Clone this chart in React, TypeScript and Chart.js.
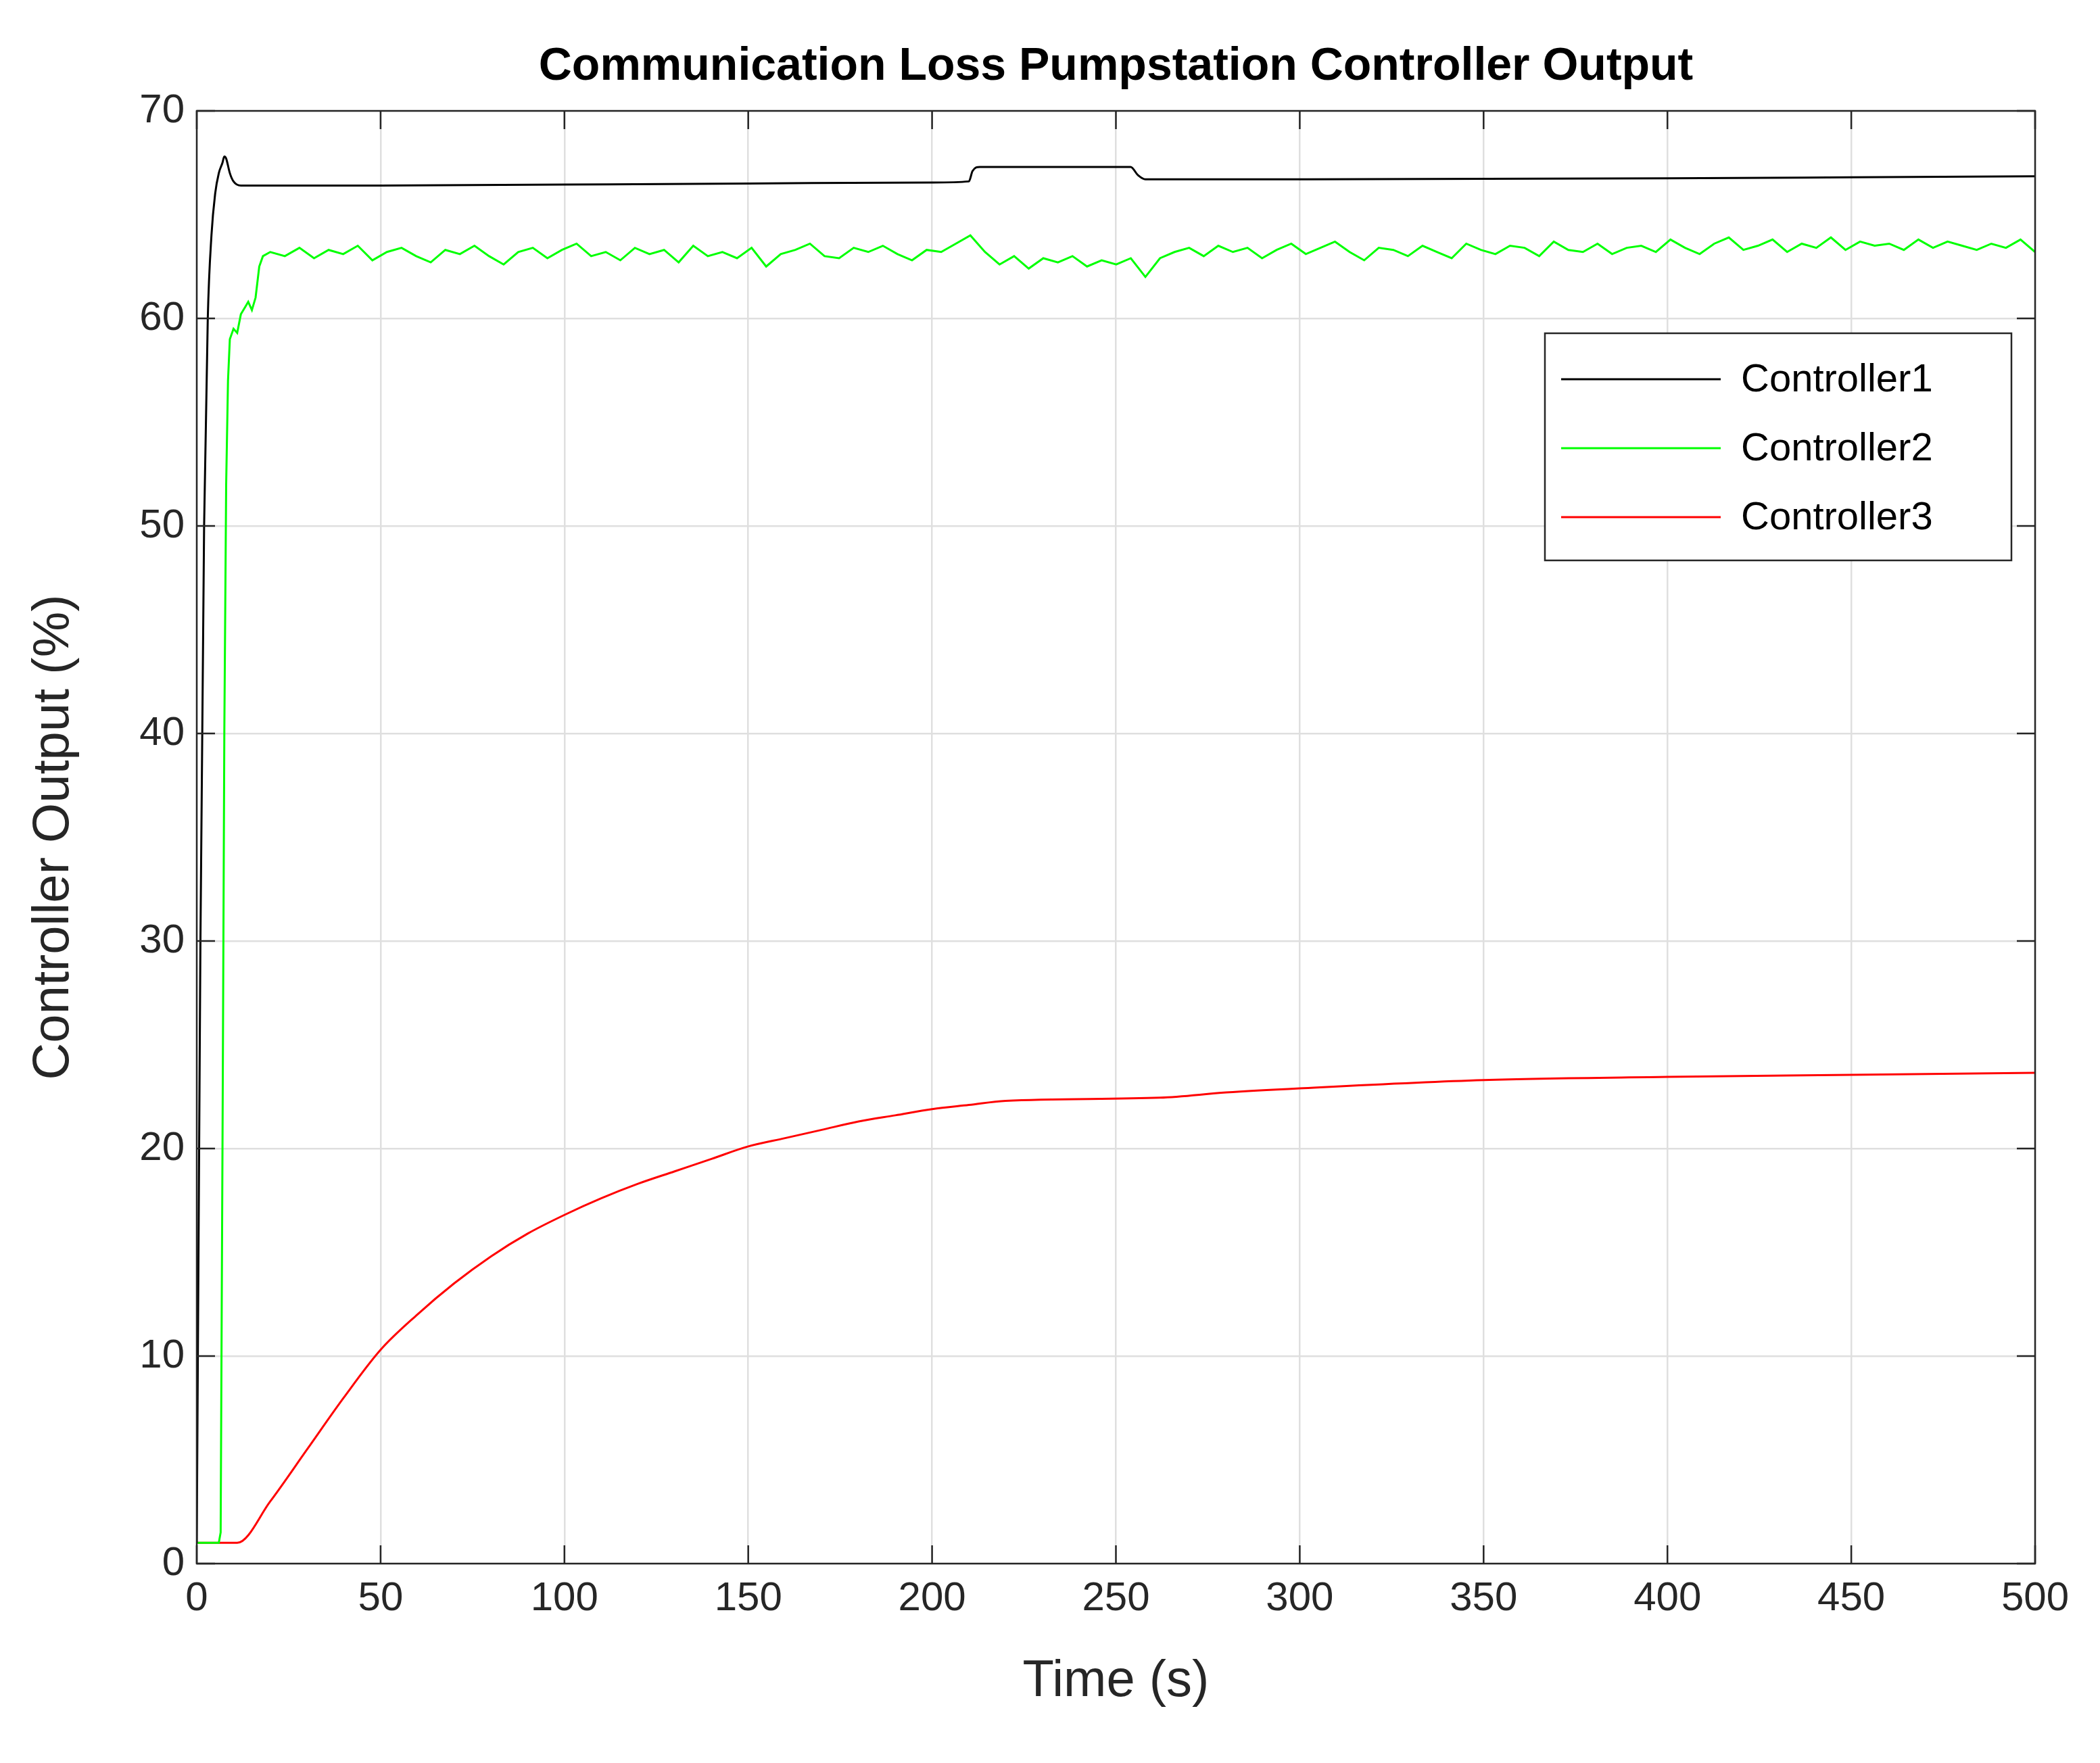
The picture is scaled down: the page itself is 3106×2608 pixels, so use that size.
import React, { useEffect, useRef } from "react";
import { Chart, registerables } from "chart.js";
Chart.register(...registerables);

const xTicks = [0, 50, 100, 150, 200, 250, 300, 350, 400, 450, 500];
const yTicks = [0, 10, 20, 30, 40, 50, 60, 70];

const c1T = [0, 1, 2, 3, 4, 5, 6, 7, 7.5, 8, 9, 10, 12, 50, 100, 150, 200, 210, 211, 213, 250, 254, 256, 258, 300, 400, 450, 500];
const c1Y = [1, 30, 50, 60, 64, 66, 67, 67.5, 67.8, 67.7, 67, 66.6, 66.4, 66.4, 66.45, 66.5, 66.55, 66.6, 67.1, 67.3, 67.3, 67.3, 66.9, 66.7, 66.7, 66.75, 66.8, 66.85];

const c3T = [0, 11, 20, 30, 40, 50, 60, 70, 80, 90, 100, 110, 120, 130, 140, 150, 160, 170, 180, 190, 200, 210, 220, 262, 280, 300, 350, 400, 450, 500];
const c3Y = [1, 1, 3, 5.5, 8, 10.3, 12, 13.5, 14.8, 15.9, 16.8, 17.6, 18.3, 18.9, 19.5, 20.1, 20.5, 20.9, 21.3, 21.6, 21.9, 22.1, 22.3, 22.45, 22.7, 22.9, 23.3, 23.45, 23.55, 23.65];

const c2StartT = [0, 6, 6.5, 7, 7.5, 8, 8.5, 9, 10, 11, 12, 13, 14, 15, 16, 17, 18];
const c2StartY = [1, 1, 1.5, 20, 40, 52, 57, 59, 59.5, 59.3, 60.2, 60.5, 60.8, 60.4, 61, 62.5, 63];
const c2NoiseFrom = 20;
const c2NoiseTo = 500;
const c2Noise = [
  63.2, 63.0, 63.4, 62.9, 63.3, 63.1, 63.5, 62.8, 63.2, 63.4, 63.0, 62.7, 63.3, 63.1, 63.5, 63.0,
  62.6, 63.2, 63.4, 62.9, 63.3, 63.6, 63.0, 63.2, 62.8, 63.4, 63.1, 63.3, 62.7, 63.5, 63.0, 63.2,
  62.9, 63.4, 62.5, 63.1, 63.3, 63.6, 63.0, 62.9, 63.4, 63.2, 63.5, 63.1, 62.8, 63.3, 63.2, 63.6,
  64.0, 63.2, 62.6, 63.0, 62.4, 62.9, 62.7, 63.0, 62.5, 62.8, 62.6, 62.9, 62.0,
  62.9, 63.2, 63.4, 63.0, 63.5, 63.2, 63.4, 62.9, 63.3, 63.6, 63.1, 63.4, 63.7, 63.2, 62.8, 63.4,
  63.3, 63.0, 63.5, 63.2, 62.9, 63.6, 63.3, 63.1, 63.5, 63.4, 63.0, 63.7, 63.3, 63.2, 63.6, 63.1,
  63.4, 63.5, 63.2, 63.8, 63.4, 63.1, 63.6, 63.9, 63.3, 63.5, 63.8, 63.2, 63.6, 63.4, 63.9, 63.3,
  63.7, 63.5, 63.6, 63.3, 63.8, 63.4, 63.7, 63.5, 63.3, 63.6, 63.4, 63.8, 63.2,
];

const FONT = "'Liberation Sans', Arial, sans-serif";

export default function App() {
  const ref = useRef<HTMLCanvasElement>(null);
  useEffect(() => {
    const step = (c2NoiseTo - c2NoiseFrom) / (c2Noise.length - 1);
    const green = c2StartT.map((t, i) => ({ x: t, y: c2StartY[i] })).concat(
      c2Noise.map((v, i) => ({ x: c2NoiseFrom + i * step, y: v }))
    );
    const black = c1T.map((t, i) => ({ x: t, y: c1Y[i] }));
    const red = c3T.map((t, i) => ({ x: t, y: c3Y[i] }));

    const deco = {
      id: "deco",
      afterDraw(chart: any) {
        const { ctx, chartArea: a } = chart;
        const xs = chart.scales.x, ys = chart.scales.y;
        ctx.save();
        ctx.strokeStyle = "#262626";
        ctx.lineWidth = 2.5;
        ctx.strokeRect(a.left, a.top, a.right - a.left, a.bottom - a.top);
        const tl = 27;
        ctx.beginPath();
        xTicks.forEach((v) => {
          const px = xs.getPixelForValue(v);
          ctx.moveTo(px, a.bottom); ctx.lineTo(px, a.bottom - tl);
          ctx.moveTo(px, a.top); ctx.lineTo(px, a.top + tl);
        });
        yTicks.forEach((v) => {
          const py = ys.getPixelForValue(v);
          ctx.moveTo(a.left, py); ctx.lineTo(a.left + tl, py);
          ctx.moveTo(a.right, py); ctx.lineTo(a.right - tl, py);
        });
        ctx.stroke();
        ctx.fillStyle = "#000";
        ctx.font = `bold 68px ${FONT}`;
        ctx.textAlign = "center";
        ctx.textBaseline = "alphabetic";
        ctx.fillText("Communication Loss Pumpstation Controller Output", (a.left + a.right) / 2, 118);
        const lx = 2285, ly = 493, lw = 690, lh = 336;
        ctx.fillStyle = "#fff";
        ctx.fillRect(lx, ly, lw, lh);
        ctx.strokeStyle = "#262626";
        ctx.lineWidth = 2.5;
        ctx.strokeRect(lx, ly, lw, lh);
        ctx.font = `58px ${FONT}`;
        ctx.textAlign = "left";
        ctx.textBaseline = "middle";
        chart.data.datasets.forEach((ds: any, i: number) => {
          const y = ly + 68 + i * 102;
          ctx.strokeStyle = ds.borderColor;
          ctx.lineWidth = 3;
          ctx.beginPath();
          ctx.moveTo(lx + 24, y); ctx.lineTo(lx + 260, y);
          ctx.stroke();
          ctx.fillStyle = "#000";
          ctx.fillText(ds.label, lx + 290, y + 2);
        });
        ctx.restore();
      },
    };

    const chart = new Chart(ref.current!, {
      type: "line",
      data: {
        datasets: [
          { label: "Controller1", data: black, borderColor: "#000000", borderWidth: 3, pointRadius: 0, cubicInterpolationMode: "monotone" },
          { label: "Controller2", data: green, borderColor: "#00ff00", borderWidth: 3, pointRadius: 0, tension: 0 },
          { label: "Controller3", data: red, borderColor: "#ff0000", borderWidth: 3, pointRadius: 0, cubicInterpolationMode: "monotone" },
        ],
      },
      options: {
        animation: false,
        responsive: false,
        devicePixelRatio: 1,
        layout: { padding: { top: 164, right: 96, left: 30, bottom: 70 } },
        plugins: { legend: { display: false }, title: { display: false }, tooltip: { enabled: false } },
        scales: {
          x: {
            type: "linear", min: 0, max: 500,
            afterBuildTicks: (s: any) => { s.ticks = xTicks.map((v) => ({ value: v })); },
            afterFit: (s: any) => { s.height = 225; },
            grid: { color: "#dfdfdf", lineWidth: 2.5, drawTicks: false },
            border: { display: false },
            ticks: { font: { size: 60, family: FONT }, color: "#262626", padding: 16, maxRotation: 0 },
            title: { display: true, text: "Time (s)", font: { size: 76, family: FONT }, color: "#262626", padding: { top: 0 } },
          },
          y: {
            type: "linear", min: 0, max: 70,
            afterBuildTicks: (s: any) => { s.ticks = yTicks.map((v) => ({ value: v })); },
            afterFit: (s: any) => { s.width = 261; },
            grid: { color: "#dfdfdf", lineWidth: 2.5, drawTicks: false },
            border: { display: false },
            ticks: { font: { size: 60, family: FONT }, color: "#262626", padding: 18 },
            title: { display: true, text: "Controller Output (%)", font: { size: 76, family: FONT }, color: "#262626", padding: { bottom: 0 } },
          },
        },
      },
      plugins: [deco],
    } as any);
    return () => chart.destroy();
  }, []);
  return (
    <div style={{ position: "absolute", left: 0, top: 0, width: 3106, height: 2608, background: "#fff" }}>
      <canvas ref={ref} width={3106} height={2608} style={{ width: 3106, height: 2608 }} />
    </div>
  );
}
